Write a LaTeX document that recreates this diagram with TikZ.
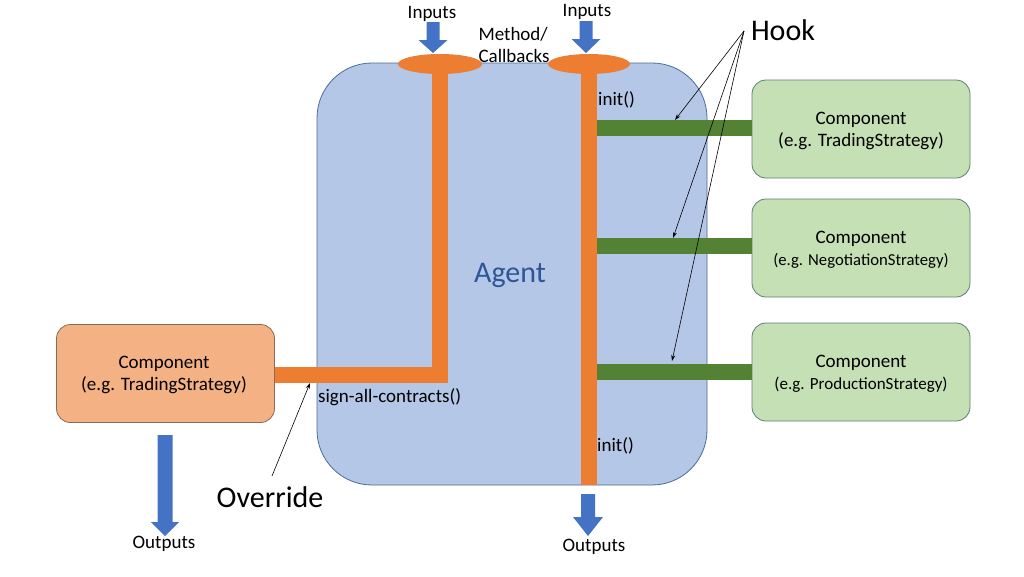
\documentclass[tikz,border=0pt]{standalone}
\usepackage{fontspec}
\setmainfont{Carlito}
\usetikzlibrary{shapes.geometric,arrows.meta}
\definecolor{orng}{HTML}{ED7D31}
\definecolor{blu}{HTML}{4472C4}
\definecolor{agentfill}{HTML}{B4C7E7}
\definecolor{agentline}{HTML}{4A6C9B}
\definecolor{agenttext}{HTML}{2F5597}
\definecolor{grn}{HTML}{548235}
\definecolor{grnfill}{HTML}{C5E0B4}
\definecolor{grnline}{HTML}{5E7F73}
\definecolor{orfill}{HTML}{F4B183}
\definecolor{orline}{HTML}{8A6A58}
\tikzset{
  fs/.style={font=\fontsize{#1}{22}\selectfont},
  lbl/.style={fs=19, inner sep=0pt},
  compbox/.style={draw=#1, line width=0.8pt, rounded corners=14pt, minimum width=218pt, minimum height=98pt, align=center, inner sep=0pt},
  orbar/.style={draw=orng, line width=16pt},
  gbar/.style={draw=grn, line width=16pt},
  thinarrow/.style={draw=black, line width=0.6pt, -{Stealth[length=6pt,width=4pt]}},
}
\newcommand{\blockarrow}[6]{%
  \fill[blu] (#1-#5,#2) -- (#1+#5,#2) -- (#1+#5,#3) -- (#1+#6,#3) -- (#1,#4) -- (#1-#6,#3) -- (#1-#5,#3) -- cycle;}
\begin{document}
\begin{tikzpicture}[x=1pt,y=-1pt]
\useasboundingbox (0,0) rectangle (1024,576);
\fill[white] (0,0) rectangle (1024,576);

% agent
\node[draw=agentline, fill=agentfill, line width=0.8pt, rounded corners=55pt,
      minimum width=390pt, minimum height=422pt, inner sep=0pt] (agent) at (512,274) {};
\node[fs=30, text=agenttext, inner sep=0pt] (agentlbl) at (510,275) {Agent};

% components
\node[compbox=orline, fill=orfill] (ob) at (165.5,373.5) {};
\node[fs=19, align=center, inner sep=0pt] (obt) at (164,375) {Component\\(e.g. TradingStrategy)};
\node[compbox=grnline, fill=grnfill] (g1) at (861,129) {};
\node[fs=19, align=center, inner sep=0pt] (g1t) at (861,131) {Component\\(e.g. TradingStrategy)};
\node[compbox=grnline, fill=grnfill] (g2) at (861,248) {};
\node[fs=19, align=center, inner sep=0pt] (g2t) at (861,250) {Component\\{\fontsize{16.7}{22}\selectfont(e.g. NegotiationStrategy)}};
\node[compbox=grnline, fill=grnfill] (g3) at (861,372) {};
\node[fs=19, align=center, inner sep=0pt] (g3t) at (861,374) {Component\\{\fontsize{17}{22}\selectfont(e.g. ProductionStrategy)}};

% ellipses
\node[ellipse, fill=orng, minimum width=84pt, minimum height=20pt, inner sep=0pt] (e1) at (440,64) {};
\node[ellipse, fill=orng, minimum width=82pt, minimum height=20pt, inner sep=0pt] (e2) at (589,64) {};

% green hooks
\coordinate (h1) at (589,128);
\coordinate (h2) at (589,246);
\coordinate (h3) at (589,372);
\draw[gbar] (h1) -- (h1 -| g1.west);
\draw[gbar] (h2) -- (h2 -| g2.west);
\draw[gbar] (h3) -- (h3 -| g3.west);

% orange bars
\coordinate (lc) at (440,375);
\coordinate (rb) at (589,485);
\draw[orbar, line join=miter] (e1.center) -- (lc) -- (lc -| ob.east);
\draw[orbar] (e2.center) -- (rb);

% block arrows
\blockarrow{433}{22}{40}{53}{6.5}{14.5}
\blockarrow{586}{21}{39}{53}{6.5}{14.5}
\blockarrow{588}{494}{517}{536}{7}{15}
\blockarrow{165}{435}{522}{536}{7.5}{14}

% labels
\node[lbl] (in1) at (432,14) {Inputs};
\node[lbl] (in2) at (587,12) {Inputs};
\node[lbl, align=left] (mc) at (514,45) {Method/\\Callbacks};
\node[lbl, anchor=west] (i1) at (598,100) {init()};
\node[lbl, anchor=west] (i2) at (597,446) {init()};
\node[lbl, anchor=west] (sac) at (318,397) {sign-all-contracts()};
\node[lbl] (o1) at (164,544) {Outputs};
\node[lbl] (o2) at (594,547) {Outputs};
\node[fs=30, inner sep=0pt] (hook) at (783,30) {Hook};
\node[fs=30, inner sep=0pt] (ovr) at (270,497) {Override};

% thin arrows
\coordinate (hs) at (744,31);
\coordinate (t1) at (675,120);
\coordinate (t2) at (673,238);
\coordinate (t3) at (672,361);
\draw[thinarrow] (hs) -- (t1);
\draw[thinarrow] (hs) -- (t2);
\draw[thinarrow] (hs) -- (t3);
\coordinate (os) at (272,476);
\coordinate (ot) at (310,383);
\draw[thinarrow] (os) -- (ot);
\end{tikzpicture}
\end{document}
